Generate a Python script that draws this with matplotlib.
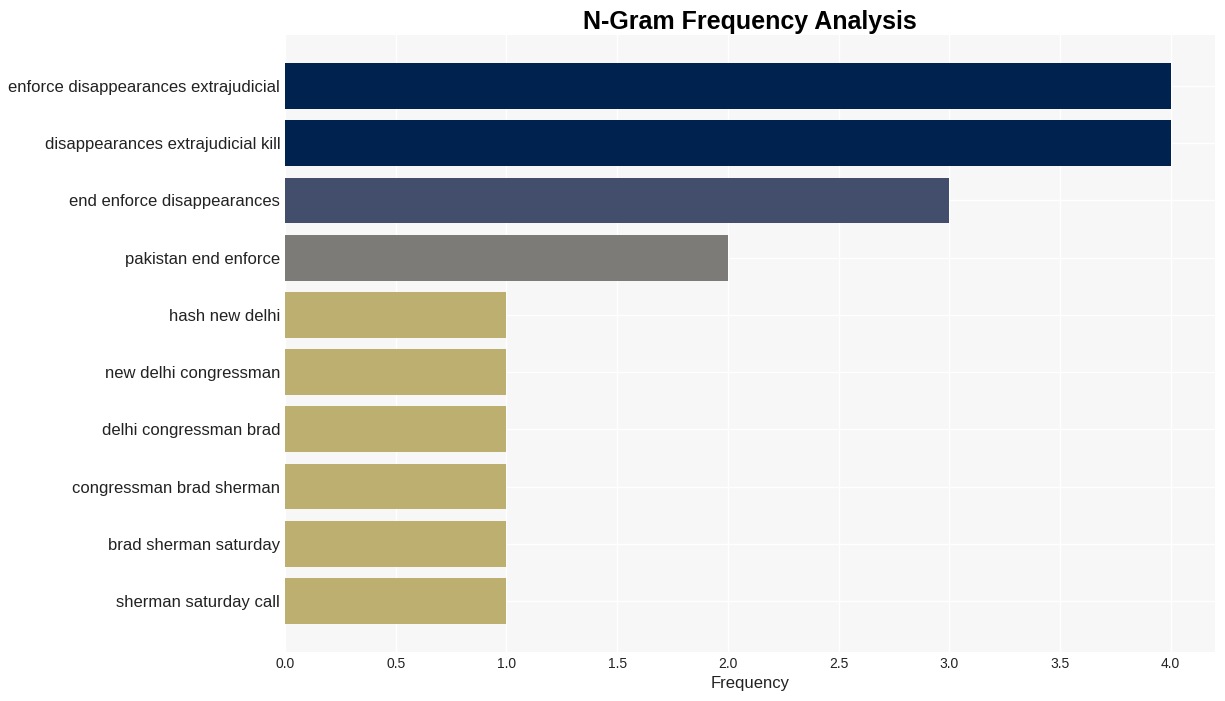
import matplotlib.pyplot as plt

plt.rcParams['font.family'] = ['Liberation Sans', 'DejaVu Sans']

# --- data ---
ngrams = [
    "enforce disappearances extrajudicial",
    "disappearances extrajudicial kill",
    "end enforce disappearances",
    "pakistan end enforce",
    "hash new delhi",
    "new delhi congressman",
    "delhi congressman brad",
    "congressman brad sherman",
    "brad sherman saturday",
    "sherman saturday call",
]
counts = [4, 4, 3, 2, 1, 1, 1, 1, 1, 1]
bar_colors = ["#00224e", "#00224e", "#434e6c", "#7c7b78",
              "#bcaf6f", "#bcaf6f", "#bcaf6f", "#bcaf6f", "#bcaf6f", "#bcaf6f"]

fig = plt.figure(figsize=(12.25, 7.01), dpi=100)
ax = fig.add_axes([0.2327, 0.070, 0.7591, 0.880])
ax.set_facecolor("#f7f7f7")

ypos = list(range(len(ngrams)))
ax.barh(ypos, counts, color=bar_colors, height=0.8, zorder=2)
ax.set_yticks(ypos)
ax.set_yticklabels(ngrams, fontsize=12, color="#222222")
ax.invert_yaxis()

ax.grid(True, color="white", linewidth=1, zorder=0)
ax.set_axisbelow(True)
for s in ax.spines.values():
    s.set_visible(False)
ax.tick_params(axis="both", length=0)
ax.tick_params(axis="x", labelsize=10, colors="#222222")
ax.tick_params(axis="y", pad=3.5)

ax.set_xlabel("Frequency", fontsize=12, color="#222222")
ax.set_title("N-Gram Frequency Analysis", fontsize=18, fontweight="bold", pad=4)

fig.savefig("out.png", dpi=100)
